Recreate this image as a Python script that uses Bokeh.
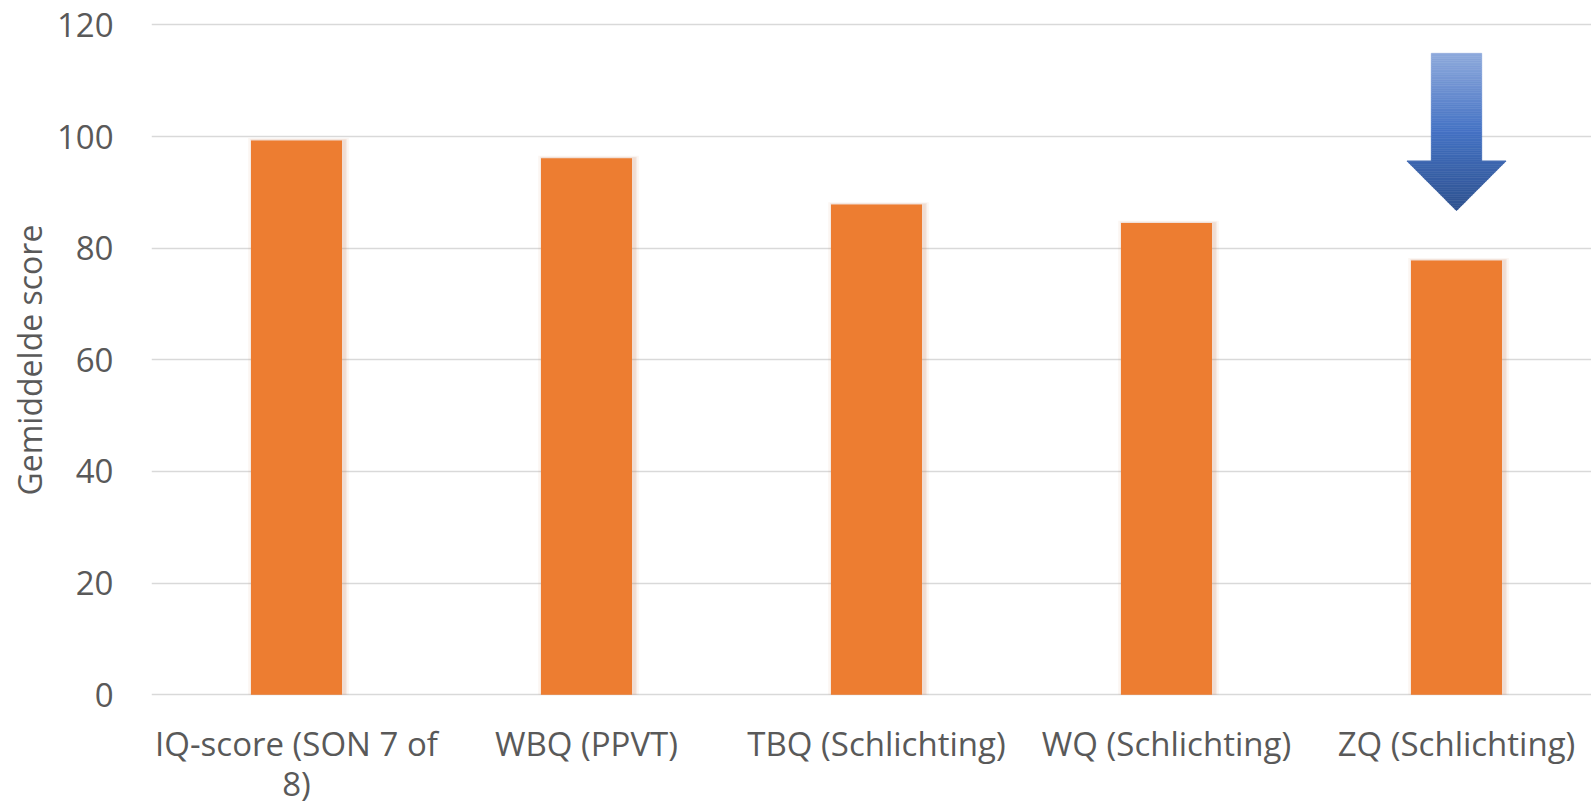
from bokeh.plotting import figure
from bokeh.models import Range1d, FixedTicker, LabelSet, ColumnDataSource, Title
from bokeh.core.properties import value
from bokeh.embed import file_html
from bokeh.resources import INLINE
import numpy as np

# ---- data ----
categories = ["IQ-score (SON 7 of\n8)", "WBQ (PPVT)", "TBQ (Schlichting)",
              "WQ (Schlichting)", "ZQ (Schlichting)"]
scores = [99.3, 96.1, 87.8, 84.5, 77.8]
y_ticks = [0, 20, 40, 60, 80, 100, 120]
y_label = "Gemiddelde score"

# arrow annotation above last bar (data units)
arrow_category = 4
arrow_top = 114.9
arrow_head_base = 95.6
arrow_tip = 86.7
arrow_shaft_half = 0.087
arrow_head_half = 0.171

FONT = "Open Sans"
TXT = "#595959"
GRID = "#D9D9D9"
BAR = "#ED7D31"

W, H = 1591, 805
LEFT, TOP = 151, 13
PX_PER_CAT = 290
PX_PER_UNIT = 5.583
ZERO_Y = 694.3          # pixel row of the value 0
Y_MAX = (ZERO_Y - TOP) / PX_PER_UNIT
Y_MIN = -(H - ZERO_Y) / PX_PER_UNIT   # room below 0 for the two-line labels

xc = [i + 0.5 for i in range(len(categories))]

p = figure(width=W, height=H, output_backend="svg", toolbar_location=None,
           x_range=Range1d(0, (W - LEFT) / PX_PER_CAT), y_range=Range1d(Y_MIN, Y_MAX),
           min_border_left=LEFT, min_border_right=0, min_border_top=TOP,
           min_border_bottom=0)
p.outline_line_color = None
p.background_fill_color = "white"
p.border_fill_color = "white"

# grid
p.xgrid.grid_line_color = None
p.ygrid.grid_line_color = GRID
p.ygrid.grid_line_width = 1.5
p.ygrid.ticker = FixedTicker(ticks=y_ticks)

# y axis
p.yaxis.ticker = FixedTicker(ticks=y_ticks)
p.yaxis.axis_line_color = None
p.yaxis.major_tick_line_color = None
p.yaxis.minor_tick_line_color = None
p.yaxis.major_tick_out = 0
p.yaxis.major_label_standoff = 38
p.yaxis.major_label_text_font = FONT
p.yaxis.major_label_text_font_size = "33px"
p.yaxis.major_label_text_color = TXT

# y axis title (left title, anchored at its start so it sits over the 0-120 span)
p.add_layout(Title(text=y_label, align="left", offset=H - 495, standoff=5,
                   text_font=FONT, text_font_size="32px", text_font_style="normal",
                   text_color=TXT), "left")

# x category labels (each line its own centred row)
p.xaxis.visible = False
line1 = [c.split("\n")[0] for c in categories]
line2 = [c.split("\n")[1] if "\n" in c else "" for c in categories]
FIRST_OFF = 26.5
LINE_GAP = 40
for k, texts in enumerate([line1, line2]):
    src = ColumnDataSource(dict(x=xc, y=[-(FIRST_OFF + k * LINE_GAP) / PX_PER_UNIT] * len(xc),
                                text=texts))
    p.add_layout(LabelSet(x="x", y="y", text="text", source=src,
                          text_align="center", text_baseline="top",
                          text_font=value(FONT), text_font_size="33px",
                          text_color=TXT, text_line_height=0.85))

# soft shadow of bars
bw = 91 / PX_PER_CAT
px_x = 1 / PX_PER_CAT
for k, a in zip([8, 5, 3], [0.07, 0.09, 0.13]):
    p.vbar(x=[x + 2 * px_x for x in xc], width=bw + 2 * k * px_x * 0.6,
           top=[s + k / PX_PER_UNIT * 0.3 for s in scores], bottom=0,
           fill_color="#C8855A", fill_alpha=a, line_color=None)

# bars
p.vbar(x=xc, width=bw, top=scores, bottom=0, fill_color=BAR, line_color=None)

# gradient arrow built from thin horizontal strips
stops = [(0.0, (0x8F, 0xAA, 0xDC)), (0.5, (0x44, 0x72, 0xC4)), (1.0, (0x2F, 0x52, 0x8F))]
def col(t):
    for (t0, c0), (t1, c1) in zip(stops[:-1], stops[1:]):
        if t <= t1:
            f = (t - t0) / (t1 - t0)
            c = [int(round(a + (b - a) * f)) for a, b in zip(c0, c1)]
            return "#%02x%02x%02x" % tuple(c)
    return "#%02x%02x%02x" % stops[-1][1]

ax = xc[arrow_category]
edges = list(np.linspace(arrow_top, arrow_tip, 90))
edges.append(arrow_head_base)
edges = sorted(set(edges), reverse=True)
xs, ys, cs = [], [], []
for y1, y0 in zip(edges[:-1], edges[1:]):
    if y0 >= arrow_head_base:
        w1 = w0 = arrow_shaft_half
    else:
        w1 = arrow_head_half * (y1 - arrow_tip) / (arrow_head_base - arrow_tip)
        w0 = arrow_head_half * (y0 - arrow_tip) / (arrow_head_base - arrow_tip)
    xs.append([ax - w1, ax + w1, ax + w0, ax - w0])
    ys.append([y1, y1, y0, y0])
    t = (arrow_top - (y0 + y1) / 2) / (arrow_top - arrow_tip)
    cs.append(col(t))
p.patches(xs=xs, ys=ys, fill_color=cs, line_color=cs, line_width=0.6)

open("out.html", "w").write(file_html(p, INLINE))
